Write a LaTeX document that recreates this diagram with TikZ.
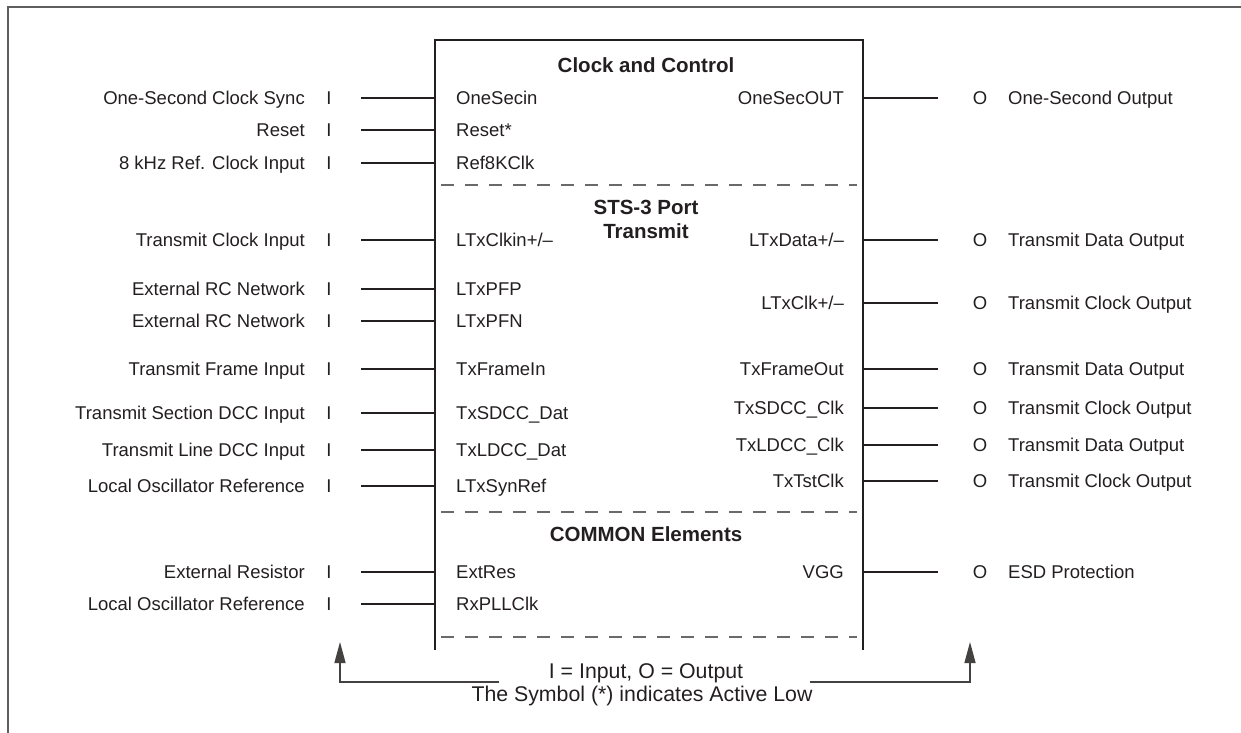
\documentclass[tikz,border=0pt]{standalone}
\usepackage{fontspec}
\setmainfont{Liberation Sans}
\usetikzlibrary{arrows.meta,positioning}
\definecolor{ink}{HTML}{231F20}
\definecolor{rim}{HTML}{5E5E5E}
\definecolor{dash}{HTML}{6A6A6A}
\tikzset{
  >=Stealth,
  txt/.style={font=\fontsize{18.5}{22}\selectfont, text=ink, inner sep=0pt,
    text height=13.2pt, text depth=0pt},
  extlabel/.style={txt, anchor=east},
  outlabel/.style={txt, anchor=west},
  iport/.style={txt, minimum width=64pt},
  oport/.style={txt, minimum width=84pt},
  pinl/.style={txt, anchor=west, inner xsep=21pt},
  pinr/.style={txt, anchor=east, inner xsep=19pt},
  blocktitle/.style={font=\fontsize{20.5}{24}\selectfont\bfseries, text=ink,
    align=center, inner sep=0pt},
  wire/.style={draw=ink, line width=1.4pt},
  chip/.style={draw=ink, line width=2.6pt},
  split/.style={draw=dash, line width=1.4pt, dash pattern=on 13pt off 11pt},
  note/.style={font=\fontsize{21.3}{25}\selectfont, text=ink, inner sep=0pt},
  keyarrow/.style={draw=ink!85, line width=1.4pt,
    -{Triangle[length=21pt,width=11pt]}},
}
\begin{document}
\begin{tikzpicture}[x=1pt,y=-1pt]
\useasboundingbox (0,0) rectangle (1241,732);
% outer frame
\draw[rim, line width=2pt] (1245,7) -- (8,7) -- (8,740);

% device body
\draw[chip] (435,650) -- (435,40) -- (863,40) -- (863,650);
\draw[split] (441,185) -- (857,185);
\draw[split] (441,512) -- (857,512);
\draw[split] (441,637) -- (857,637);

\node[blocktitle] (clk) at (646,65) {Clock and Control};
\node[blocktitle] (sts) at (646,219) {STS-3 Port\\Transmit};
\node[blocktitle] (com) at (646,534) {COMMON Elements};

% inputs
\node[extlabel] (lsync) at (305,98) {One-Second Clock Sync};
\node[iport] (isync) at (329,98) {I};
\node[pinl] (psync) at (435,98) {OneSecin};
\node[extlabel] (lrst) at (305,130) {Reset};
\node[iport] (irst) at (329,130) {I};
\node[pinl] (prst) at (435,130) {Reset*};
\node[extlabel] (lref) at (305,163) {8 kHz Ref. Clock Input};
\node[iport] (iref) at (329,163) {I};
\node[pinl] (pref) at (435,163) {Ref8KClk};

\node[extlabel] (ltclk) at (305,240) {Transmit Clock Input};
\node[iport] (itclk) at (329,240) {I};
\node[pinl] (ptclk) at (435,240) {LTxClkin+/–};
\node[extlabel] (lpfp) at (305,289) {External RC Network};
\node[iport] (ipfp) at (329,289) {I};
\node[pinl] (ppfp) at (435,289) {LTxPFP};
\node[extlabel] (lpfn) at (305,321) {External RC Network};
\node[iport] (ipfn) at (329,321) {I};
\node[pinl] (ppfn) at (435,321) {LTxPFN};
\node[extlabel] (lfin) at (305,369) {Transmit Frame Input};
\node[iport] (ifin) at (329,369) {I};
\node[pinl] (pfin) at (435,369) {TxFrameIn};
\node[extlabel] (lsdat) at (305,413) {Transmit Section DCC Input};
\node[iport] (isdat) at (329,413) {I};
\node[pinl] (psdat) at (435,413) {TxSDCC\_Dat};
\node[extlabel] (lldat) at (305,450) {Transmit Line DCC Input};
\node[iport] (ildat) at (329,450) {I};
\node[pinl] (pldat) at (435,450) {TxLDCC\_Dat};
\node[extlabel] (lsyn) at (305,486) {Local Oscillator Reference};
\node[iport] (isyn) at (329,486) {I};
\node[pinl] (psyn) at (435,486) {LTxSynRef};

\node[extlabel] (lext) at (305,572) {External Resistor};
\node[iport] (iext) at (329,572) {I};
\node[pinl] (pext) at (435,572) {ExtRes};
\node[extlabel] (lpll) at (305,604) {Local Oscillator Reference};
\node[iport] (ipll) at (329,604) {I};
\node[pinl] (ppll) at (435,604) {RxPLLClk};

% outputs
\node[pinr] (qsec) at (863,98) {OneSecOUT};
\node[oport] (osec) at (980,98) {O};
\node[outlabel] (rsec) at (1008,98) {One-Second Output};
\node[pinr] (qdat) at (863,240) {LTxData+/–};
\node[oport] (odat) at (980,240) {O};
\node[outlabel] (rdat) at (1008,240) {Transmit Data Output};
\node[pinr] (qclk) at (863,303) {LTxClk+/–};
\node[oport] (oclk) at (980,303) {O};
\node[outlabel] (rclk) at (1008,303) {Transmit Clock Output};
\node[pinr] (qfout) at (863,369) {TxFrameOut};
\node[oport] (ofout) at (980,369) {O};
\node[outlabel] (rfout) at (1008,369) {Transmit Data Output};
\node[pinr] (qsclk) at (863,408) {TxSDCC\_Clk};
\node[oport] (osclk) at (980,408) {O};
\node[outlabel] (rsclk) at (1008,408) {Transmit Clock Output};
\node[pinr] (qlclk) at (863,445) {TxLDCC\_Clk};
\node[oport] (olclk) at (980,445) {O};
\node[outlabel] (rlclk) at (1008,445) {Transmit Data Output};
\node[pinr] (qtst) at (863,481) {TxTstClk};
\node[oport] (otst) at (980,481) {O};
\node[outlabel] (rtst) at (1008,481) {Transmit Clock Output};
\node[pinr] (qvgg) at (863,572) {VGG};
\node[oport] (ovgg) at (980,572) {O};
\node[outlabel] (rvgg) at (1008,572) {ESD Protection};

\path[wire]
(isync.east) edge (psync.west)
(irst.east) edge (prst.west)
(iref.east) edge (pref.west)
(itclk.east) edge (ptclk.west)
(ipfp.east) edge (ppfp.west)
(ipfn.east) edge (ppfn.west)
(ifin.east) edge (pfin.west)
(isdat.east) edge (psdat.west)
(ildat.east) edge (pldat.west)
(isyn.east) edge (psyn.west)
(iext.east) edge (pext.west)
(ipll.east) edge (ppll.west);

\path[wire]
(qsec.east) edge (osec.west)
(qdat.east) edge (odat.west)
(qclk.east) edge (oclk.west)
(qfout.east) edge (ofout.west)
(qsclk.east) edge (osclk.west)
(qlclk.east) edge (olclk.west)
(qtst.east) edge (otst.west)
(qvgg.east) edge (ovgg.west);

% legend
\node[note] (key) at (646,673) {I = Input, O = Output};
\node[note] (sym) at (642,696) {The Symbol (*) indicates Active Low};
\coordinate (kl) at (499,682);
\coordinate (kr) at (810,682);
\coordinate (al) at (340,642);
\coordinate (ar) at (970,642);
\draw[keyarrow] (kl) -| (al);
\draw[keyarrow] (kr) -| (ar);
\end{tikzpicture}
\end{document}
